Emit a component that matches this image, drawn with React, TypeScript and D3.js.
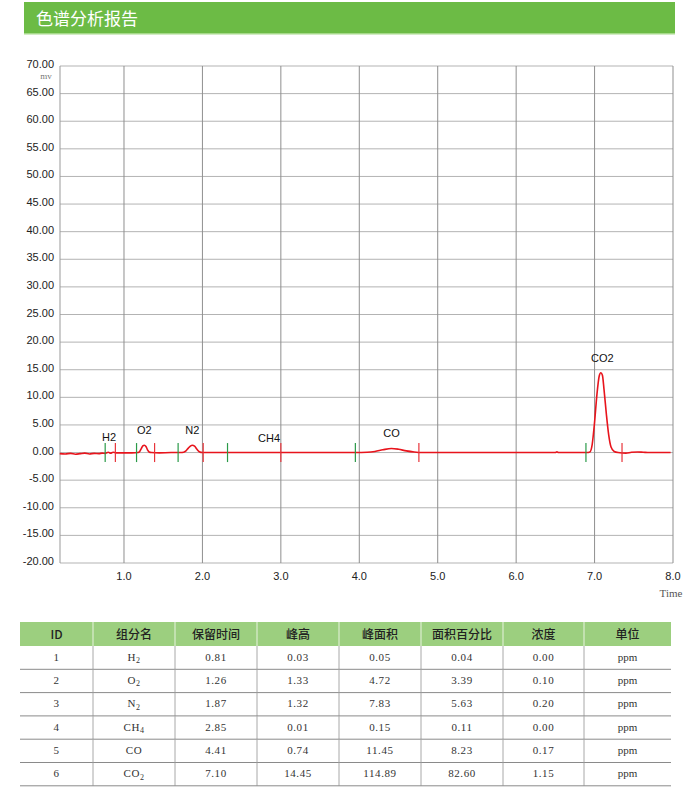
import React from 'react';
import * as d3 from 'd3';

// axis ticks
const yTickValues = [70, 65, 60, 55, 50, 45, 40, 35, 30, 25, 20, 15, 10, 5, 0, -5, -10, -15, -20];
const xTickValues = [1, 2, 3, 4, 5, 6, 7, 8];

// peak table
const peakIds = [1, 2, 3, 4, 5, 6];
const peakNames = ['H2', 'O2', 'N2', 'CH4', 'CO', 'CO2'];
const retention = [0.81, 1.26, 1.87, 2.85, 4.41, 7.10];
const peakHeight = [0.03, 1.33, 1.32, 0.01, 0.74, 14.45];
const peakArea = [0.05, 4.72, 7.83, 0.15, 11.45, 114.89];
const areaPercent = [0.04, 3.39, 5.63, 0.11, 8.23, 82.60];
const concentration = [0.00, 0.10, 0.20, 0.00, 0.17, 1.15];
const unit = 'ppm';

// integration start / end marks (min)
const peakStart = [0.76, 1.16, 1.69, 2.32, 3.95, 6.89];
const peakEnd = [0.89, 1.39, 2.01, 3.0, 4.76, 7.35];

// chromatogram trace: [time, mV]
const trace: [number, number][] = [
  [0.18, -0.2], [0.25, -0.25], [0.32, -0.15], [0.38, -0.3], [0.44, -0.2], [0.5, -0.1],
  [0.56, -0.25], [0.62, -0.15], [0.68, -0.2], [0.72, -0.1], [0.76, -0.15], [0.8, 0.05],
  [0.83, -0.1], [0.86, 0.05], [0.9, -0.05], [1.0, -0.05], [1.1, -0.05], [1.18, 0.0],
  [1.2, 0.2], [1.22, 0.7], [1.24, 1.2], [1.26, 1.33], [1.28, 1.1], [1.3, 0.5],
  [1.32, 0.1], [1.35, 0.0], [1.45, -0.05], [1.6, 0.0], [1.72, 0.0],
  [1.76, 0.05], [1.79, 0.3], [1.82, 0.8], [1.85, 1.2], [1.87, 1.32], [1.9, 1.15],
  [1.93, 0.6], [1.96, 0.15], [2.0, 0.0], [2.2, 0.0], [2.5, 0.0], [2.85, 0.01],
  [3.2, 0.0], [3.6, 0.0], [3.95, 0.0],
  [4.1, 0.05], [4.2, 0.2], [4.3, 0.5], [4.41, 0.74], [4.5, 0.6], [4.6, 0.3],
  [4.7, 0.1], [4.8, 0.0], [5.5, 0.0], [6.5, 0.0], [6.52, 0.15], [6.54, 0.0], [6.9, 0.0],
  [6.94, 0.1], [6.97, 1.5], [7.0, 5.5], [7.03, 10.5], [7.06, 13.9], [7.08, 14.45],
  [7.1, 14.0], [7.12, 11.5], [7.15, 7.0], [7.18, 3.2], [7.21, 1.0], [7.25, 0.2],
  [7.3, 0.0], [7.4, -0.1], [7.47, 0.05], [7.55, 0.1], [7.62, 0.05], [7.7, 0.0], [7.97, 0.0],
];

const tableHeaders = ['ID', '组分名', '保留时间', '峰高', '峰面积', '面积百分比', '浓度', '单位'];

const plot = { left: 60, right: 673, top: 66, bottom: 563 };
const colEdges = [20, 93, 175, 257, 339, 421, 503, 584, 671];
const tableTop = 622;
const headerH = 24;
const rowH = 23.3;

const sans = 'Liberation Sans, Arial, sans-serif';
const serif = 'Liberation Serif, Times New Roman, serif';
const cjk = 'Noto Sans CJK SC, sans-serif';

// H2 -> H + subscript 2
function Formula({ name }: { name: string }) {
  const parts = name.match(/[A-Za-z]+|\d+/g) || [];
  return (
    <>
      {parts.map((p, i) =>
        /\d/.test(p) ? (
          <tspan key={i} fontSize={8} dy={2.5}>{p}</tspan>
        ) : (
          <tspan key={i} dy={i > 0 ? -2.5 : 0}>{p}</tspan>
        )
      )}
    </>
  );
}

const App: React.FC = () => {
  const x = d3.scaleLinear().domain([0.184, 8.0]).range([plot.left, plot.right]);
  const y = d3.scaleLinear().domain([-20, 70]).range([plot.bottom, plot.top]);
  const line = d3
    .line<[number, number]>()
    .x(d => x(d[0]))
    .y(d => y(d[1]))
    .curve(d3.curveMonotoneX);

  const rows = peakIds.map((id, i) => [
    String(id),
    peakNames[i],
    retention[i].toFixed(2),
    peakHeight[i].toFixed(2),
    peakArea[i].toFixed(2),
    areaPercent[i].toFixed(2),
    concentration[i].toFixed(2),
    unit,
  ]);

  return (
    <svg
      width={700}
      height={800}
      style={{ position: 'absolute', left: 0, top: 0, background: '#fff' }}
    >
      {/* title bar */}
      <rect x={24} y={2} width={651} height={32} fill="#6cbb45" />
      <rect x={24} y={33} width={651} height={1.5} fill="#a6d98a" />
      <text x={36} y={24.5} fontFamily={cjk} fontSize={17} fill="#fff">色谱分析报告</text>

      {/* grid */}
      {yTickValues.map(v => (
        <line key={'h' + v} x1={plot.left} x2={plot.right} y1={y(v)} y2={y(v)} stroke="#b3b3b3" strokeWidth={1} />
      ))}
      {xTickValues.map(v => (
        <line key={'v' + v} x1={x(v)} x2={x(v)} y1={plot.top} y2={plot.bottom} stroke="#8f8f8f" strokeWidth={1} />
      ))}
      <line x1={plot.left} x2={plot.left} y1={plot.top} y2={plot.bottom} stroke="#999" />

      {/* y labels */}
      {yTickValues.map(v => (
        <text key={'yl' + v} x={54} y={y(v) + 2} textAnchor="end" fontFamily={sans} fontSize={11} fill="#222">
          {v.toFixed(2)}
        </text>
      ))}
      <text x={46} y={79} textAnchor="middle" fontFamily={serif} fontSize={9} fill="#777">mv</text>

      {/* x labels */}
      {xTickValues.map(v => (
        <text key={'xl' + v} x={x(v)} y={580} textAnchor="middle" fontFamily={sans} fontSize={11} fill="#222">
          {v.toFixed(1)}
        </text>
      ))}
      <text x={671} y={597} textAnchor="middle" fontFamily={serif} fontSize={11} fill="#555">Time</text>

      {/* trace */}
      <path d={line(trace) || ''} fill="none" stroke="#e8141c" strokeWidth={1.6} />

      {/* integration marks */}
      {peakStart.map((t, i) => (
        <line key={'s' + i} x1={x(t)} x2={x(t)} y1={y(0) - 9.5} y2={y(0) + 9.5} stroke="#2a9a48" strokeWidth={1.2} />
      ))}
      {peakEnd.map((t, i) => (
        <line key={'e' + i} x1={x(t)} x2={x(t)} y1={y(0) - 9.5} y2={y(0) + 9.5} stroke="#e8343a" strokeWidth={1.2} />
      ))}

      {/* peak labels */}
      {peakNames.map((n, i) => (
        <text key={'pl' + i} x={x(retention[i])} y={y(peakHeight[i]) - 11} textAnchor="middle" fontFamily={sans} fontSize={11} fill="#111">
          {n}
        </text>
      ))}

      {/* table */}
      <rect x={colEdges[0]} y={tableTop} width={colEdges[8] - colEdges[0]} height={headerH} fill="#9ccf7f" />
      {colEdges.slice(1, 8).map((cx, i) => (
        <line key={'hd' + i} x1={cx} x2={cx} y1={tableTop} y2={tableTop + headerH} stroke="#e8f3e0" strokeWidth={1} />
      ))}
      {tableHeaders.map((h, i) => (
        <text
          key={'th' + i}
          x={(colEdges[i] + colEdges[i + 1]) / 2}
          y={tableTop + headerH / 2 + 4.5}
          textAnchor="middle"
          fontFamily={cjk}
          fontSize={12}
          fontWeight={500}
          fill="#222"
        >
          {h}
        </text>
      ))}
      {rows.map((r, ri) => {
        const top = tableTop + headerH + ri * rowH;
        return (
          <g key={'r' + ri}>
            {colEdges.slice(1, 8).map((cx, i) => (
              <line key={'bd' + i} x1={cx} x2={cx} y1={top} y2={top + rowH} stroke="#a8a8a8" strokeWidth={1} />
            ))}
            <line x1={colEdges[0]} x2={colEdges[8]} y1={top + rowH} y2={top + rowH} stroke="#8a8a8a" strokeWidth={1} />
            {r.map((c, ci) => (
              <text
                key={'c' + ci}
                x={(colEdges[ci] + colEdges[ci + 1]) / 2}
                y={top + rowH / 2 + 3}
                textAnchor="middle"
                fontFamily={serif}
                fontSize={11}
                letterSpacing={ci === 7 ? 0 : 0.6}
                fill="#333"
              >
                {ci === 1 ? <Formula name={c} /> : c}
              </text>
            ))}
          </g>
        );
      })}
    </svg>
  );
};

export default App;
